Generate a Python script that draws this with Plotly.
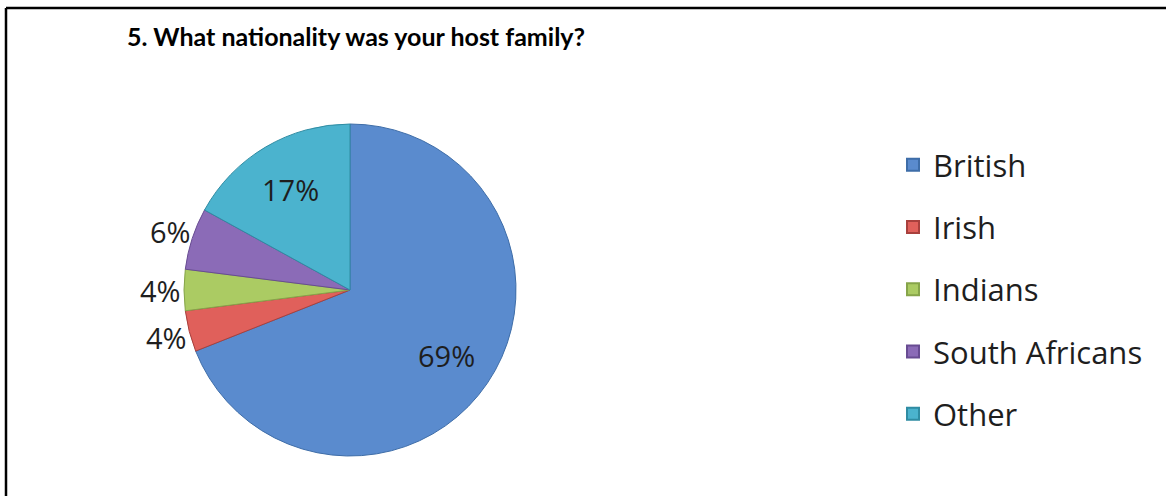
import math
import plotly.graph_objects as go

# Survey answers: host family nationality (share of respondents, %)
categories = ["British", "Irish", "Indians", "South Africans", "Other"]
shares = [69, 4, 4, 6, 17]
slice_colors = ["#5A8BCE", "#E0605B", "#ABCB63", "#8B6BB7", "#4BB3CE"]
edge_colors = ["#3E6DA8", "#A8403D", "#86A44A", "#684C92", "#2F8CA3"]
label_inside = [True, False, False, False, True]

W, H = 1166, 496
cx, cy, r = 350, 290, 166

fig = go.Figure()

fig.add_trace(go.Pie(
    labels=categories,
    values=shares,
    sort=False,
    direction="clockwise",
    rotation=0,
    marker=dict(colors=slice_colors, line=dict(color=edge_colors, width=1)),
    textinfo="none",
    showlegend=False,
    domain=dict(x=[(cx - r) / W, (cx + r) / W],
                y=[(H - cy - r) / H, (H - cy + r) / H]),
    hoverinfo="label+percent",
))

# Percentage labels placed along each slice's middle angle
annotations = []
total = sum(shares)
start = 0.0
for value, inside in zip(shares, label_inside):
    mid = (start + value / 2) / total * 2 * math.pi
    start += value
    dist = 0.70 * r if inside else 1.14 * r
    px = cx + dist * math.sin(mid)
    py = cy - dist * math.cos(mid)
    annotations.append(dict(
        text=f"{value}%", x=px / W, y=1 - py / H,
        xref="paper", yref="paper", xanchor="center", yanchor="middle",
        showarrow=False,
        font=dict(family="Open Sans", size=29, color="#1E1E1E"),
    ))

annotations.append(dict(
    text="<b>5. What nationality was your host family?</b>",
    x=125 / W, y=1 - 36 / H, xref="paper", yref="paper",
    xanchor="left", yanchor="middle", showarrow=False,
    font=dict(family="Lato", size=25, color="#000000"),
))

# Legend entries, one group each so the gap between rows can be set
for name, col, edge in zip(categories, slice_colors, edge_colors):
    fig.add_trace(go.Scatter(
        x=[None], y=[None], mode="markers", name=name,
        legendgroup=name,
        marker=dict(symbol="square", size=17, color=col,
                    line=dict(color=edge, width=1)),
    ))

fig.update_layout(
    width=W, height=H,
    margin=dict(l=0, r=0, t=0, b=0),
    paper_bgcolor="white",
    plot_bgcolor="white",
    xaxis=dict(visible=False),
    yaxis=dict(visible=False),
    legend=dict(
        x=893 / W, y=1 - 138 / H, xanchor="left", yanchor="top",
        font=dict(family="Open Sans", size=31, color="#1E1E1E"),
        tracegroupgap=19, itemsizing="constant",
        bgcolor="rgba(0,0,0,0)",
    ),
    annotations=annotations,
    shapes=[
        dict(type="line", xref="paper", yref="paper",
             x0=6 / W, x1=1, y0=1 - 8 / H, y1=1 - 8 / H,
             line=dict(color="#000000", width=2.5)),
        dict(type="line", xref="paper", yref="paper",
             x0=6 / W, x1=6 / W, y0=0, y1=1 - 8 / H,
             line=dict(color="#000000", width=2.5)),
    ],
)

fig.write_html("out.html")
